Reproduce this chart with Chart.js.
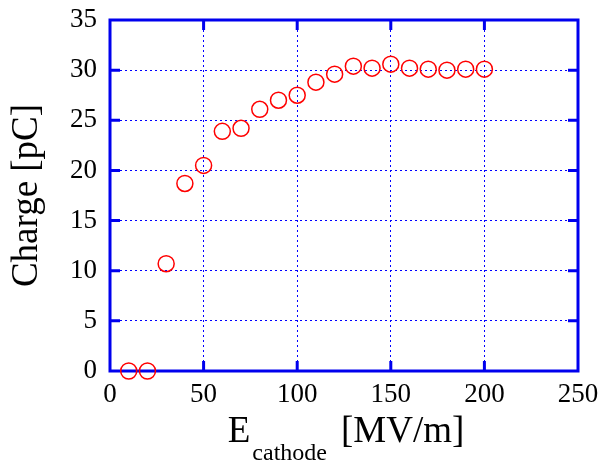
<!DOCTYPE html>
<html>
<head>
<meta charset="utf-8">
<script src="https://cdn.jsdelivr.net/npm/chart.js@4"></script>
<style>
  html, body { margin: 0; padding: 0; background: #fff; }
  #wrap { width: 603px; height: 465px; }
</style>
</head>
<body>
<div id="wrap"><canvas id="myChart" width="603" height="465"></canvas></div>
<script>
// Cathode field [MV/m] and collected charge [pC]
let fieldValues = [10, 20, 30, 40, 50, 60, 70, 80, 90, 100, 110, 120, 130, 140, 150, 160, 170, 180, 190, 200];
let chargeValues = [0, 0, 10.7, 18.7, 20.5, 23.9, 24.2, 26.1, 27.0, 27.5, 28.8, 29.6, 30.4, 30.2, 30.6, 30.2, 30.1, 30.0, 30.1, 30.1];

// Axis ranges
let xMin = 0, xMax = 250, xStep = 50;
let yMin = 0, yMax = 35, yStep = 5;

let serif = "'Liberation Serif', 'Times New Roman', serif";
let frameBlue = '#0000ee';
let gridBlue = '#0000ff';

Chart.defaults.font.family = serif;
Chart.defaults.font.size = 27;
Chart.defaults.color = '#000';

let points = fieldValues.map((x, i) => ({ x: x, y: chargeValues[i] }));

// Thick frame with inward tick marks on all four sides
const framePlugin = {
    id: 'frame',
    beforeDatasetsDraw(chart) {
        const { ctx, chartArea: a, scales } = chart;
        ctx.save();
        ctx.strokeStyle = frameBlue;
        ctx.lineWidth = 3;
        ctx.strokeRect(a.left, a.top, a.right - a.left, a.bottom - a.top);
        const len = 10;
        ctx.beginPath();
        for (let v = xMin + xStep; v < xMax; v += xStep) {
            const px = scales.x.getPixelForValue(v);
            ctx.moveTo(px, a.bottom); ctx.lineTo(px, a.bottom - len);
            ctx.moveTo(px, a.top); ctx.lineTo(px, a.top + len);
        }
        for (let v = yMin + yStep; v < yMax; v += yStep) {
            const py = scales.y.getPixelForValue(v);
            ctx.moveTo(a.left, py); ctx.lineTo(a.left + len, py);
            ctx.moveTo(a.right, py); ctx.lineTo(a.right - len, py);
        }
        ctx.stroke();
        ctx.restore();
    }
};

// Axis titles, x title with a subscript
const titlePlugin = {
    id: 'titles',
    afterDraw(chart) {
        const { ctx, chartArea: a } = chart;
        ctx.save();
        ctx.fillStyle = '#000';
        ctx.textBaseline = 'alphabetic';

        const big = '37px ' + serif;
        const small = '24px ' + serif;
        ctx.font = big;
        const wE = ctx.measureText('E').width;
        const wUnit = ctx.measureText('[MV/m]').width;
        ctx.font = small;
        const wSub = ctx.measureText('cathode').width;
        const total = wE + 2 + wSub + 14 + wUnit;
        let x = (a.left + a.right) / 2 - total / 2 + 2;
        ctx.textAlign = 'left';
        ctx.font = big;
        ctx.fillText('E', x, 442);
        x += wE + 2;
        ctx.font = small;
        ctx.fillText('cathode', x, 460);
        x += wSub + 14;
        ctx.font = big;
        ctx.fillText('[MV/m]', x, 442);

        ctx.translate(27, (a.top + a.bottom) / 2);
        ctx.rotate(-Math.PI / 2);
        ctx.textAlign = 'center';
        ctx.textBaseline = 'middle';
        ctx.font = big;
        ctx.fillText('Charge [pC]', 0, 0);
        ctx.restore();
    }
};

let tickFont = { family: serif, size: 27 };

let chart = new Chart(document.getElementById('myChart').getContext('2d'), {
    type: 'scatter',
    data: {
        datasets: [{
            data: points,
            pointStyle: 'circle',
            pointRadius: 8,
            pointHoverRadius: 8,
            borderColor: '#ff0000',
            borderWidth: 1.5,
            backgroundColor: 'rgba(0,0,0,0)',
            showLine: false,
            clip: false
        }]
    },
    options: {
        responsive: false,
        animation: false,
        layout: { padding: { top: 20, right: 25, left: 0, bottom: 0 } },
        plugins: {
            legend: { display: false },
            tooltip: { enabled: false }
        },
        scales: {
            x: {
                type: 'linear',
                min: xMin,
                max: xMax,
                afterFit(scale) {
                    scale.height = 94;
                    scale.paddingLeft = 0;
                    scale.paddingRight = 0;
                },
                ticks: {
                    stepSize: xStep,
                    padding: 8,
                    color: '#000',
                    maxRotation: 0,
                    font: tickFont
                },
                grid: {
                    color: ctx => (ctx.tick.value === xMin || ctx.tick.value === xMax) ? 'rgba(0,0,0,0)' : gridBlue,
                    lineWidth: 1,
                    drawTicks: false
                },
                border: { display: false, dash: [2, 3] }
            },
            y: {
                type: 'linear',
                min: yMin,
                max: yMax,
                afterFit(scale) {
                    scale.width = 110;
                    scale.paddingTop = 0;
                    scale.paddingBottom = 0;
                },
                ticks: {
                    stepSize: yStep,
                    padding: 13,
                    color: '#000',
                    font: tickFont
                },
                grid: {
                    color: ctx => (ctx.tick.value === yMin || ctx.tick.value === yMax) ? 'rgba(0,0,0,0)' : gridBlue,
                    lineWidth: 1,
                    drawTicks: false
                },
                border: { display: false, dash: [2, 3] }
            }
        }
    },
    plugins: [framePlugin, titlePlugin]
});
</script>
</body>
</html>
